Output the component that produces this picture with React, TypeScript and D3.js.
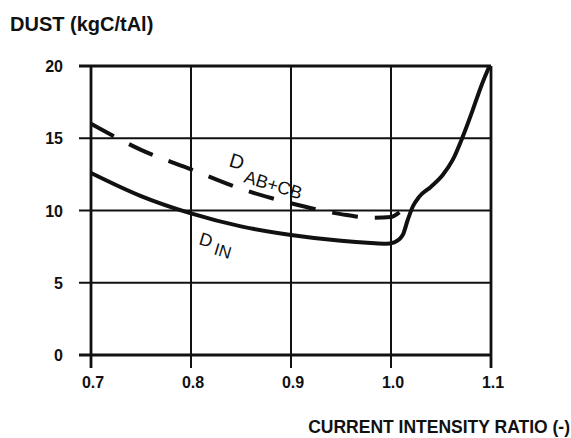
import React from "react";
import * as d3 from "d3";

// axis ticks
const xTicks = [0.7, 0.8, 0.9, 1.0, 1.1];
const xTickLabels = ["0.7", "0.8", "0.9", "1.0", "1.1"];
const yTicks = [0, 5, 10, 15, 20];

// D_IN curve (solid)
const inRatio = [0.7, 0.75, 0.8, 0.85, 0.9, 0.95, 0.98, 0.995, 1.0033, 1.0117, 1.0167, 1.0217, 1.0283, 1.04, 1.0517, 1.0617, 1.0717, 1.0817, 1.09, 1.0985];
const inDust = [12.6, 11.0, 9.8, 8.9, 8.3, 7.9, 7.75, 7.7, 7.8, 8.3, 9.34, 10.26, 10.96, 11.65, 12.46, 13.5, 15.1, 16.95, 18.57, 20.0];

// D_AB+CB curve (dashed)
const abRatio = [0.7, 0.75, 0.8, 0.85, 0.9, 0.95, 0.98, 1.0, 1.01, 1.017];
const abDust = [16.0, 14.2, 12.85, 11.5, 10.5, 9.75, 9.5, 9.55, 9.95, 10.3];

const W = 571;
const H = 438;
const font = "'Liberation Sans', Arial, sans-serif";

export default function App() {
    const x = d3.scaleLinear().domain([0.7, 1.1]).range([91, 491]);
    const y = d3.scaleLinear().domain([0, 20]).range([355, 66]);

    const line = d3.line<[number, number]>()
        .x(d => x(d[0]))
        .y(d => y(d[1]))
        .curve(d3.curveMonotoneX);

    const inPts = inRatio.map((r, i) => [r, inDust[i]] as [number, number]);
    const abPts = abRatio.map((r, i) => [r, abDust[i]] as [number, number]);

    return (
        <svg width={W} height={H} style={{ position: "absolute", left: 0, top: 0, background: "#fff" }}>
            <rect width={W} height={H} fill="#fff" />

            {/* horizontal grid */}
            {yTicks.map(t => (
                <line key={"h" + t} x1={79} x2={x(1.1)} y1={y(t)} y2={y(t)}
                    stroke="#111" strokeWidth={t === 0 || t === 20 ? 2.8 : 2} />
            ))}
            {/* vertical grid */}
            {xTicks.map(t => (
                <line key={"v" + t} x1={x(t)} x2={x(t)} y1={y(20)} y2={368}
                    stroke="#111" strokeWidth={t === 0.7 || t === 1.1 ? 2.8 : 2} />
            ))}

            {/* y tick labels */}
            {yTicks.map(t => (
                <text key={"yl" + t} x={63} y={y(t) + 6} textAnchor="end"
                    fontFamily={font} fontWeight="bold" fontSize={16} fill="#111">{t}</text>
            ))}
            {/* x tick labels */}
            {xTicks.map((t, i) => (
                <text key={"xl" + t} x={x(t) + 2} y={388} textAnchor="middle"
                    fontFamily={font} fontWeight="bold" fontSize={16} fill="#111">{xTickLabels[i]}</text>
            ))}

            {/* curves */}
            <path d={line(abPts) || ""} fill="none" stroke="#111" strokeWidth={4}
                strokeDasharray="26 17" />
            <path d={line(inPts) || ""} fill="none" stroke="#111" strokeWidth={4}
                strokeLinejoin="round" />

            {/* curve labels */}
            <g fontFamily={font} fill="#111">
                <text transform="translate(228,166) rotate(17)" fontSize={20}>D</text>
                <text transform="translate(243,182) rotate(17)" fontSize={18}>AB+CB</text>
                <text transform="translate(198,244) rotate(17)" fontSize={18}>D</text>
                <text transform="translate(213,254) rotate(17)" fontSize={17}>IN</text>
            </g>

            {/* axis titles */}
            <text x={10} y={31} fontFamily={font} fontWeight="bold" fontSize={20} fill="#111">
                DUST (kgC/tAl)
            </text>
            <text x={570} y={433} textAnchor="end" fontFamily={font} fontWeight="bold" fontSize={17.5} fill="#111">
                CURRENT INTENSITY RATIO (-)
            </text>
        </svg>
    );
}
